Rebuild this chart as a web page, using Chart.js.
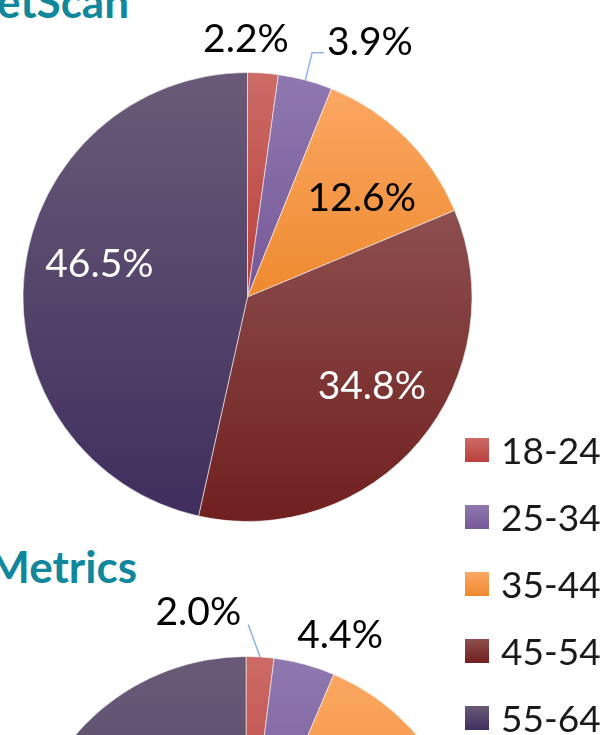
<!DOCTYPE html>
<html>
<head>
<meta charset="utf-8">
<script src="https://cdn.jsdelivr.net/npm/chart.js@4.4.1/dist/chart.umd.min.js"></script>
<style>
	html, body { margin: 0; padding: 0; background: #fff; }
	body { width: 604px; height: 735px; position: relative; overflow: hidden; font-family: Lato, sans-serif; }
	.chart-title { position: absolute; font-weight: bold; font-size: 44px; line-height: 1; color: #10879B; white-space: nowrap; text-align: right; }
	#title_top { right: 475px; top: -21px; }
	#title_bottom { right: 467px; top: 544px; }
	#chart_top { position: absolute; left: 0; top: 0; width: 604px; height: 540px; }
	#chart_bottom { position: absolute; left: 0; top: 540px; width: 604px; height: 600px; }
	#age_legend { position: absolute; left: 465px; top: 416px; }
	.legend-row { height: 67px; display: flex; align-items: center; }
	.legend-box { width: 24px; height: 24px; margin-right: 12px; }
	.legend-text { font-size: 37px; line-height: 67px; color: #1a1a1a; }
</style>
</head>
<body>
<div class="chart-title" id="title_top">NetScan</div>
<div class="chart-title" id="title_bottom">Metrics</div>
<div id="chart_top"><canvas id="top_chart"></canvas></div>
<div id="chart_bottom"><canvas id="bottom_chart"></canvas></div>
<div id="age_legend"></div>
<script>
var ageGroups = ['18-24', '25-34', '35-44', '45-54', '55-64'],
	netScanShare = [2.2, 3.9, 12.6, 34.8, 46.5],
	metricsShare = [2.0, 4.4, 13.5, 35.0, 45.1],
	topShades = ['#CC6B67', '#8F78AF', '#FBA763', '#8D4F4F', '#695B77'],
	bottomShades = ['#B9403D', '#765998', '#EE8A2F', '#70201E', '#3F2E5E'],
	labelInk = ['#000', '#000', '#000', '#fff', '#fff'];

// where each percentage sits: fraction of the radius and a turn (deg) off the slice middle
var netScanPlace = [
	{ dist: 1.156, turn: -4.3 },
	{ dist: 1.265, turn: 10.6, leader: 'elbow' },
	{ dist: 0.676, turn: 4.2 },
	{ dist: 0.678, turn: -4.7 },
	{ dist: 0.677, turn: 6.6 }
];
var metricsPlace = [
	{ dist: 1.223, turn: -13.6, leader: 'line' },
	{ dist: 1.179, turn: 5.7 },
	{ dist: 0.677, turn: 4.0 },
	{ dist: 0.677, turn: -4.0 },
	{ dist: 0.677, turn: 6.0 }
];

// vertical gradient over each slice's own bounding box
function sliceFill(c) {
	var i = c.dataIndex;
	var area = c.chart.chartArea;
	if (c.type !== 'data' || !area) {
		return topShades[i];
	}
	var vals = c.chart.data.datasets[0].data;
	var total = vals.reduce(function(s, v) { return s + v; }, 0);
	var before = 0;
	for (var k = 0; k < i; k++) before += vals[k];
	var a0 = before / total * 2 * Math.PI - Math.PI / 2,
		a1 = (before + vals[i]) / total * 2 * Math.PI - Math.PI / 2;
	var cy = (area.top + area.bottom) / 2,
		r = Math.min(area.width, area.height) / 2;
	var ys = [0, Math.sin(a0), Math.sin(a1)];
	if (a0 <= Math.PI / 2 && a1 >= Math.PI / 2) ys.push(1);
	var g = c.chart.ctx.createLinearGradient(0, cy + r * Math.min.apply(null, ys), 0, cy + r * Math.max.apply(null, ys));
	g.addColorStop(0, topShades[i]);
	g.addColorStop(1, bottomShades[i]);
	return g;
}

var sliceLabels = {
	id: 'sliceLabels',
	afterDatasetsDraw: function(chart, args, opts) {
		var ctx = chart.ctx,
			meta = chart.getDatasetMeta(0),
			vals = chart.data.datasets[0].data,
			size = 39;
		ctx.save();
		ctx.font = size + 'px Lato';
		ctx.textAlign = 'center';
		ctx.textBaseline = 'alphabetic';
		meta.data.forEach(function(arc, i) {
			var p = opts.place[i];
			var mid = (arc.startAngle + arc.endAngle) / 2;
			var a = mid + p.turn * Math.PI / 180;
			var x = arc.x + Math.cos(a) * arc.outerRadius * p.dist,
				y = arc.y + Math.sin(a) * arc.outerRadius * p.dist;
			var text = vals[i].toFixed(1) + '%';
			var w = ctx.measureText(text).width;

			if (p.leader) {
				var sx = arc.x + Math.cos(mid) * arc.outerRadius,
					sy = arc.y + Math.sin(mid) * arc.outerRadius;
				ctx.beginPath();
				ctx.strokeStyle = '#8DB4E2';
				ctx.lineWidth = 1.5;
				ctx.moveTo(sx, sy);
				if (p.leader === 'elbow') {
					ctx.lineTo(x - w / 2 - 15, y + 12);
					ctx.lineTo(x - w / 2 - 3, y + 12);
				} else {
					ctx.lineTo(x + w / 2 + 7, y + 14);
				}
				ctx.stroke();
			}

			ctx.fillStyle = labelInk[i];
			ctx.fillText(text, x, y + size * 0.36);
		});
		ctx.restore();
	}
};

function pieConfig(values, place, padding) {
	return {
		type: 'pie',
		data: {
			labels: ageGroups,
			datasets: [{
				data: values,
				backgroundColor: sliceFill,
				borderColor: 'rgba(255,255,255,0.55)',
				borderWidth: 1
			}]
		},
		options: {
			responsive: true,
			maintainAspectRatio: false,
			animation: false,
			events: [],
			layout: { padding: padding },
			plugins: {
				legend: { display: false },
				tooltip: { enabled: false },
				sliceLabels: { place: place }
			}
		},
		plugins: [sliceLabels]
	};
}

// shared legend for both pies
var rows = [];
for (var i = 0; i < ageGroups.length; ++i) {
	rows.push('<div class="legend-row">' +
		'<span class="legend-box" style="background:linear-gradient(' + topShades[i] + ',' + bottomShades[i] + ')"></span>' +
		'<span class="legend-text">' + ageGroups[i] + '</span></div>');
}
document.getElementById('age_legend').innerHTML = rows.join('');

new Chart(document.getElementById('top_chart').getContext('2d'),
	pieConfig(netScanShare, netScanPlace, { left: 22, right: 131, top: 72, bottom: 18 }));
new Chart(document.getElementById('bottom_chart').getContext('2d'),
	pieConfig(metricsShare, metricsPlace, { left: 21, right: 133, top: 116, bottom: 34 }));
</script>
</body>
</html>
